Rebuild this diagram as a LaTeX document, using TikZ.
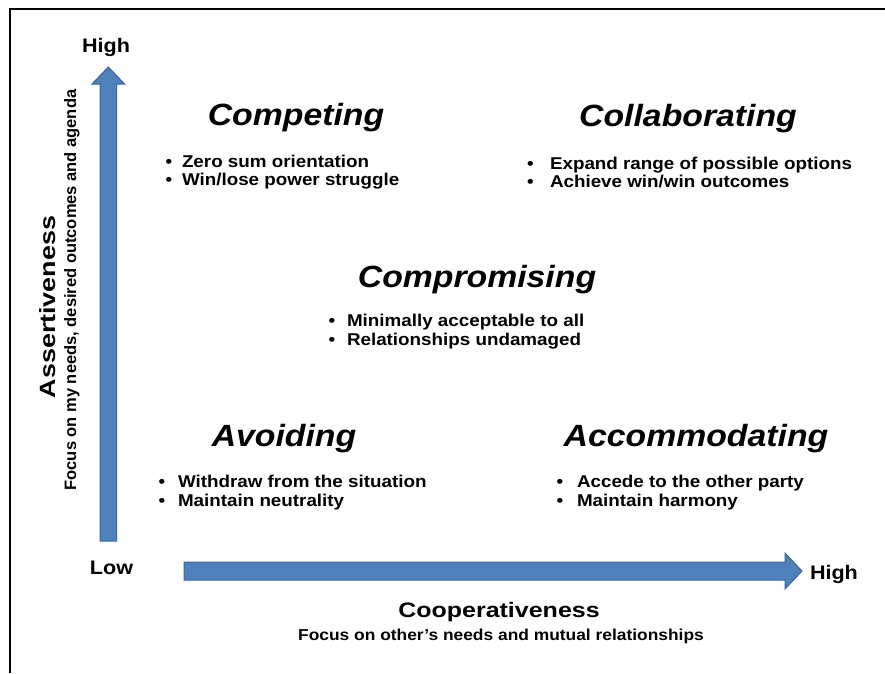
\documentclass[tikz,border=0pt]{standalone}
\usepackage{fontspec}
\setmainfont{Liberation Sans}
\usepackage{graphicx}
\definecolor{arrowfill}{HTML}{4F81BD}
\definecolor{arrowline}{HTML}{3A679C}
\newcommand{\xwide}[1]{\scalebox{1.1}[1]{#1}}
\begin{document}
\begin{tikzpicture}[x=1pt,y=-1pt,
  every node/.style={inner sep=0pt, outer sep=0pt},
  head/.style={anchor=base, font=\fontsize{30.7}{34}\selectfont\bfseries\itshape},
  item/.style={anchor=base west, font=\fontsize{17.1}{20}\selectfont\bfseries},
  dot/.style={anchor=base, font=\fontsize{17.1}{20}\selectfont\bfseries},
  level/.style={font=\fontsize{19.6}{22}\selectfont\bfseries},
  axisarrow/.style={fill=arrowfill, draw=arrowline, line width=1pt, line join=miter}
]
\useasboundingbox (0,0) rectangle (885,673);
\draw[line width=2pt] (10,673) -- (10,9) -- (885,9);

% axes
\draw[axisarrow] (100,541) -- (100,84) -- (92,84) -- (108.3,67) -- (124.6,84) -- (116.5,84) -- (116.5,541) -- cycle;
\draw[axisarrow] (184,562) -- (785,562) -- (785,553) -- (802,571) -- (785,589) -- (785,580) -- (184,580) -- cycle;

\node[level, anchor=base] (hightop) at (106,52) {\xwide{High}};
\node[level, anchor=base] (low) at (111.5,574) {\xwide{Low}};
\node[level, anchor=base west] (highright) at (810,579) {\xwide{High}};
\node[anchor=base, font=\fontsize{21}{24}\selectfont\bfseries] (coop) at (499,617) {\scalebox{1.19}[1]{Cooperativeness}};
\node[anchor=base, font=\fontsize{15.8}{18}\selectfont\bfseries] (coopsub) at (501,640) {\xwide{Focus on other’s needs and mutual relationships}};
\node[anchor=base, rotate=90, font=\fontsize{21}{24}\selectfont\bfseries] (assert) at (55,307) {\scalebox{1.28}[1.05]{Assertiveness}};
\node[anchor=base, rotate=90, font=\fontsize{16.5}{19}\selectfont\bfseries] (assertsub) at (76,290) {Focus on my needs, desired outcomes and agenda};

% Competing
\node[head] (competing) at (296,125) {\xwide{Competing}};
\node[dot] (d1a) at (169,167) {\xwide{•}};
\node[item] (t1a) at (182,167) {\xwide{Zero sum orientation}};
\node[dot] (d1b) at (169,185) {\xwide{•}};
\node[item] (t1b) at (182,185) {\xwide{Win/lose power struggle}};

% Collaborating
\node[head] (collab) at (688,126) {\xwide{Collaborating}};
\node[dot] (d2a) at (530.5,169) {\xwide{•}};
\node[item] (t2a) at (550,169) {\xwide{Expand range of possible options}};
\node[dot] (d2b) at (530.5,187) {\xwide{•}};
\node[item] (t2b) at (550,187) {\xwide{Achieve win/win outcomes}};

% Compromising
\node[head] (compro) at (477,287) {\xwide{Compromising}};
\node[dot] (d3a) at (332,326) {\xwide{•}};
\node[item] (t3a) at (347,326) {\xwide{Minimally acceptable to all}};
\node[dot] (d3b) at (332,345) {\xwide{•}};
\node[item] (t3b) at (347,345) {\xwide{Relationships undamaged}};

% Avoiding
\node[head] (avoid) at (284,446) {\xwide{Avoiding}};
\node[dot] (d4a) at (162,487) {\xwide{•}};
\node[item] (t4a) at (178,487) {\xwide{Withdraw from the situation}};
\node[dot] (d4b) at (162,506) {\xwide{•}};
\node[item] (t4b) at (178,506) {\xwide{Maintain neutrality}};

% Accommodating
\node[head] (accom) at (696,446) {\xwide{Accommodating}};
\node[dot] (d5a) at (560,487) {\xwide{•}};
\node[item] (t5a) at (577,487) {\xwide{Accede to the other party}};
\node[dot] (d5b) at (560,506) {\xwide{•}};
\node[item] (t5b) at (577,506) {\xwide{Maintain harmony}};
\end{tikzpicture}
\end{document}
